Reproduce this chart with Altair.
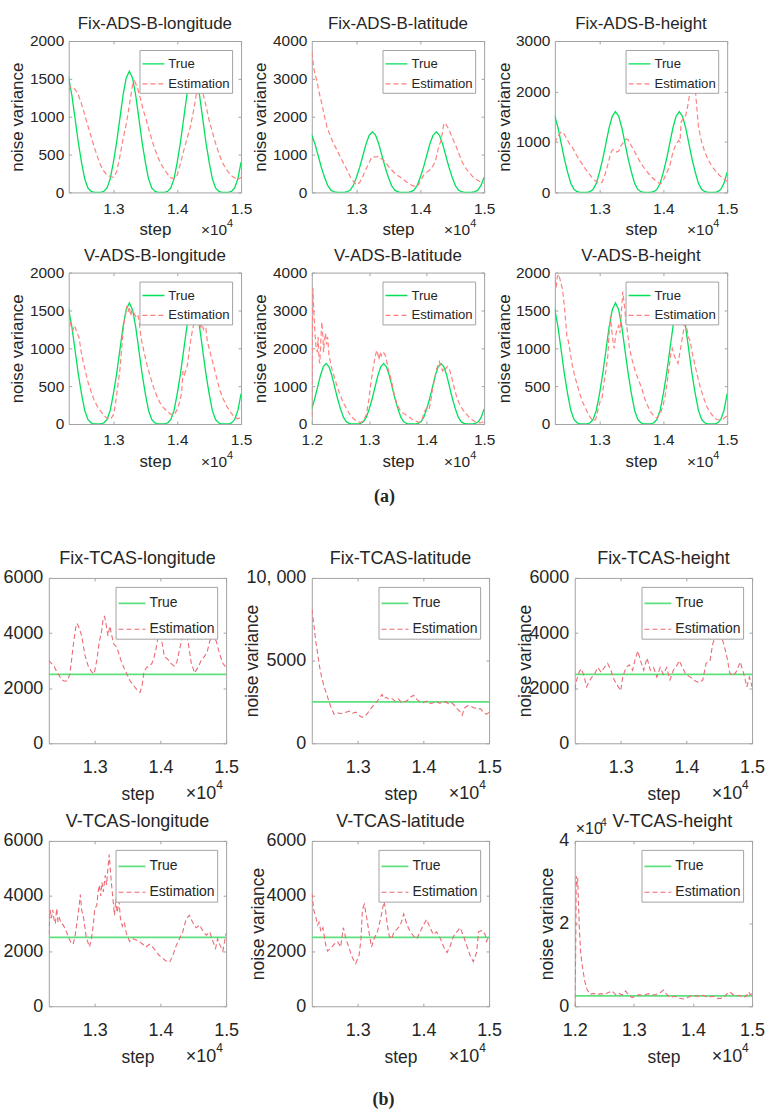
import altair as alt
import pandas as pd

FONT = "Liberation Sans"
SERIF = "Liberation Serif"
TXT = "#262626"
FRAME = "#a3a3a3"

# ---------------- data ----------------
TRUE_ADSB_STEPS = list(range(12000, 15001, 50))
TRUE_ADSB = [400, 660, 970, 1280, 1510, 1600, 1510, 1280, 970, 660, 400, 180, 60, 15, 0, 0, 0, 15, 60, 180,
             400, 660, 970, 1280, 1510, 1600, 1510, 1280, 970, 660, 400, 180, 60, 15, 0, 0, 0, 15, 60, 180,
             400, 660, 970, 1280, 1510, 1600, 1510, 1280, 970, 660, 400, 180, 60, 15, 0, 0, 0, 15, 60, 180,
             400]
TRUE_TCAS_STEPS = [12000, 15000]
TRUE_TCAS = [2500, 2500]

A1_EST = [(12300, 1350), (12330, 1400), (12360, 1390), (12400, 1360), (12450, 1290), (12500, 1170), (12550, 1030),
          (12600, 880), (12650, 740), (12700, 600), (12750, 470), (12800, 360), (12850, 280), (12900, 230),
          (12950, 210), (13000, 200), (13050, 270), (13100, 470), (13150, 700), (13200, 900), (13250, 1150),
          (13300, 1420), (13330, 1470), (13370, 1400), (13420, 1250), (13470, 1080), (13500, 1000), (13550, 850),
          (13600, 700), (13650, 570), (13700, 460), (13750, 370), (13800, 300), (13850, 240), (13900, 195),
          (13950, 180), (14000, 230), (14050, 380), (14100, 550), (14150, 700), (14200, 850), (14250, 1050),
          (14300, 1300), (14350, 1360), (14400, 1320), (14450, 1150), (14500, 950), (14550, 800), (14600, 650),
          (14650, 520), (14700, 410), (14750, 330), (14800, 270), (14850, 220), (14900, 190), (14950, 170),
          (15000, 200)]
A2_EST = [(12300, 3700), (12340, 3200), (12380, 2950), (12420, 2600), (12460, 2330), (12500, 2000), (12540, 1720),
          (12600, 1450), (12640, 1300), (12700, 1100), (12740, 960), (12800, 760), (12850, 600), (12900, 420),
          (12950, 300), (13000, 200), (13050, 260), (13100, 430), (13150, 620), (13200, 790), (13230, 900),
          (13260, 950), (13300, 930), (13340, 950), (13380, 900), (13420, 860), (13470, 760), (13520, 650),
          (13570, 560), (13620, 480), (13680, 410), (13730, 350), (13780, 280), (13830, 220), (13880, 180),
          (13930, 150), (13970, 200), (14000, 300), (14050, 450), (14100, 530), (14150, 600), (14200, 700),
          (14240, 850), (14280, 1150), (14320, 1350), (14350, 1600), (14370, 1830), (14400, 1800), (14450, 1660),
          (14500, 1450), (14560, 1220), (14610, 1000), (14660, 790), (14720, 620), (14770, 520), (14820, 420),
          (14870, 350), (14920, 300), (14970, 260), (15000, 250)]
A3_EST = [(12300, 980), (12340, 1100), (12400, 1200), (12430, 1190), (12480, 1080), (12530, 960), (12580, 880),
          (12630, 760), (12680, 650), (12730, 560), (12780, 460), (12830, 380), (12880, 300), (12940, 220),
          (12990, 185), (13040, 200), (13090, 370), (13130, 550), (13170, 760), (13200, 840), (13230, 850),
          (13270, 800), (13300, 820), (13340, 930), (13380, 1000), (13420, 1060), (13450, 1040), (13500, 920),
          (13560, 780), (13620, 640), (13680, 520), (13730, 430), (13780, 360), (13830, 290), (13880, 230),
          (13930, 185), (13960, 170), (14000, 240), (14050, 380), (14100, 520), (14150, 800), (14200, 960),
          (14240, 1030), (14260, 1000), (14280, 1400), (14320, 1480), (14350, 1520), (14380, 1700), (14420, 2000),
          (14460, 2250), (14480, 2300), (14510, 1900), (14550, 1300), (14600, 1000), (14650, 800), (14700, 650),
          (14760, 520), (14820, 420), (14870, 350), (14930, 280), (15000, 220)]
A4_EST = [(12300, 1450), (12320, 1380), (12345, 1250), (12365, 1230), (12385, 1300), (12400, 1280), (12430, 1200),
          (12460, 1150), (12490, 980), (12520, 850), (12560, 700), (12600, 560), (12650, 430), (12700, 310),
          (12750, 230), (12800, 170), (12850, 110), (12900, 80), (12950, 60), (13000, 120), (13030, 250),
          (13060, 450), (13100, 700), (13130, 1000), (13160, 1300), (13190, 1450), (13210, 1560), (13230, 1480),
          (13250, 1550), (13270, 1430), (13290, 1500), (13320, 1470), (13350, 1420), (13380, 1450), (13400, 1380),
          (13430, 1150), (13480, 950), (13530, 770), (13580, 620), (13630, 480), (13680, 370), (13730, 280),
          (13780, 220), (13840, 170), (13900, 130), (13950, 120), (14000, 190), (14040, 300), (14070, 420),
          (14090, 700), (14110, 650), (14140, 720), (14160, 780), (14200, 1050), (14240, 1250), (14280, 1380),
          (14310, 1440), (14340, 1350), (14370, 1280), (14390, 1320), (14410, 1250), (14440, 1340), (14470, 1100),
          (14520, 930), (14570, 770), (14620, 600), (14670, 440), (14720, 330), (14780, 230), (14840, 150),
          (14890, 100), (14950, 70), (15000, 90)]
A5_EST = [(12000, 200), (12010, 2500), (12020, 3600), (12035, 3000), (12055, 2400), (12075, 2000), (12095, 1900),
          (12110, 2300), (12125, 1700), (12140, 1600), (12160, 2300), (12175, 2700), (12190, 2400), (12205, 1900),
          (12220, 2200), (12240, 2400), (12255, 2100), (12275, 2300), (12300, 1800), (12330, 1600), (12350, 1450),
          (12400, 1200), (12450, 950), (12500, 750), (12550, 560), (12600, 420), (12650, 280), (12700, 180),
          (12750, 110), (12800, 60), (12850, 40), (12900, 90), (12950, 250), (12990, 600), (13030, 1100),
          (13070, 1500), (13100, 1750), (13130, 1950), (13150, 1850), (13170, 1700), (13190, 1900), (13210, 1800),
          (13240, 1900), (13270, 1850), (13300, 1700), (13330, 1450), (13360, 1300), (13400, 1050), (13440, 750),
          (13480, 550), (13530, 380), (13580, 300), (13640, 240), (13700, 180), (13760, 110), (13820, 70),
          (13870, 40), (13920, 120), (13960, 330), (14000, 420), (14040, 380), (14070, 600), (14100, 900),
          (14140, 1200), (14170, 1450), (14200, 1550), (14220, 1650), (14250, 1500), (14280, 1400), (14300, 1500),
          (14330, 1450), (14360, 1520), (14400, 1430), (14440, 1200), (14480, 950), (14520, 730), (14570, 530),
          (14620, 400), (14680, 280), (14740, 180), (14800, 100), (14860, 50), (14920, 30), (14970, 40),
          (15000, 80)]
A6_EST = [(12300, 1900), (12320, 1800), (12340, 1950), (12360, 1980), (12390, 1880), (12420, 1780), (12450, 1550),
          (12470, 1350), (12490, 1150), (12510, 1100), (12540, 950), (12570, 790), (12610, 640), (12650, 520),
          (12690, 400), (12730, 300), (12780, 210), (12830, 120), (12870, 70), (12900, 40), (12940, 60),
          (12980, 200), (13010, 300), (13040, 350), (13070, 550), (13100, 700), (13130, 900), (13150, 1200),
          (13170, 1420), (13190, 1250), (13210, 1100), (13230, 1000), (13250, 1150), (13270, 1250), (13300, 1300),
          (13320, 1200), (13345, 1500), (13365, 1750), (13385, 1600), (13410, 1400), (13440, 1200), (13470, 1000),
          (13510, 850), (13560, 700), (13610, 580), (13660, 480), (13710, 330), (13760, 230), (13810, 150),
          (13860, 100), (13900, 80), (13940, 120), (13970, 180), (14000, 260), (14030, 380), (14060, 550),
          (14090, 750), (14120, 950), (14140, 1000), (14170, 900), (14200, 850), (14230, 800), (14260, 950),
          (14290, 1100), (14320, 1250), (14340, 1380), (14360, 1300), (14390, 1150), (14420, 1100), (14450, 950),
          (14490, 800), (14530, 650), (14580, 480), (14630, 350), (14680, 230), (14730, 160), (14790, 90),
          (14840, 60), (14890, 55), (14940, 70), (15000, 110)]

B1_EST = [(12300, 3000), (12340, 2900), (12380, 2800), (12420, 2600), (12460, 2450), (12500, 2300), (12540, 2250),
          (12580, 2270), (12620, 2500), (12650, 3100), (12680, 3700), (12710, 4200), (12730, 4350), (12760, 4200),
          (12800, 3900), (12850, 3200), (12900, 2800), (12950, 2600), (12990, 2520), (13030, 3000), (13070, 3700),
          (13100, 4000), (13130, 4550), (13150, 4600), (13180, 4200), (13200, 3900), (13230, 4250), (13260, 3900),
          (13290, 3600), (13330, 3500), (13360, 3300), (13400, 3000), (13450, 2700), (13490, 2500), (13540, 2250),
          (13590, 2100), (13640, 1950), (13690, 1850), (13720, 2100), (13750, 2600), (13790, 2750), (13830, 2800),
          (13870, 2900), (13900, 3100), (13930, 3400), (13960, 3800), (13990, 4100), (14020, 3700), (14060, 3150),
          (14110, 3050), (14160, 2900), (14210, 2800), (14250, 2950), (14290, 3400), (14330, 3800), (14370, 4100),
          (14420, 3700), (14470, 2900), (14520, 2550), (14570, 2750), (14620, 3000), (14670, 3150), (14710, 3300),
          (14750, 3700), (14800, 3950), (14850, 3700), (14900, 3250), (14950, 2900), (15000, 2750)]
B2_EST = [(12300, 8100), (12330, 7200), (12360, 6200), (12390, 5400), (12420, 4600), (12450, 4000), (12490, 3400),
          (12540, 2800), (12590, 2200), (12640, 1750), (12690, 1850), (12730, 1800), (12770, 1820), (12820, 1880),
          (12870, 1940), (12920, 1820), (12970, 1880), (13020, 1680), (13060, 1580), (13100, 1600), (13150, 1820),
          (13200, 2100), (13250, 2350), (13300, 2570), (13340, 2800), (13370, 2950), (13400, 2700), (13440, 2780),
          (13480, 2650), (13520, 2700), (13570, 2550), (13620, 2680), (13670, 2450), (13720, 2520), (13760, 2600),
          (13800, 2780), (13850, 2900), (13900, 2650), (13950, 2500), (14000, 2450), (14050, 2550), (14100, 2400),
          (14150, 2450), (14190, 2550), (14240, 2420), (14290, 2460), (14340, 2500), (14390, 2380), (14430, 2450),
          (14470, 2300), (14510, 2100), (14550, 1950), (14590, 1700), (14630, 2150), (14680, 2280), (14720, 2250),
          (14770, 2150), (14820, 2080), (14870, 2080), (14910, 1900), (14960, 1750), (15000, 1880)]
B3_EST = [(12300, 1950), (12330, 2300), (12370, 2600), (12400, 2700), (12440, 2450), (12480, 2050), (12520, 2250),
          (12560, 2400), (12600, 2500), (12650, 2750), (12700, 2580), (12750, 2750), (12800, 2900), (12850, 2650),
          (12900, 2300), (12950, 2100), (13000, 1900), (13030, 2400), (13080, 2750), (13130, 2850), (13180, 2650),
          (13220, 3050), (13260, 3350), (13300, 3000), (13350, 2650), (13400, 3100), (13450, 2650), (13500, 2750),
          (13550, 2400), (13600, 2750), (13650, 2500), (13700, 2750), (13750, 2300), (13800, 2650), (13850, 2800),
          (13890, 3000), (13940, 2750), (13990, 2500), (14060, 2400), (14140, 2250), (14200, 2200), (14250, 2300),
          (14300, 2900), (14360, 3000), (14400, 3600), (14450, 3950), (14480, 3850), (14520, 3950), (14570, 3600),
          (14620, 3100), (14660, 2550), (14710, 2450), (14760, 2600), (14820, 2950), (14870, 2550), (14920, 2050),
          (14960, 2400), (15000, 2050)]
B4_EST = [(12300, 2600), (12320, 3500), (12340, 3200), (12360, 3500), (12380, 3150), (12400, 3000), (12420, 3550),
          (12440, 3050), (12460, 3200), (12490, 3000), (12520, 2950), (12560, 2750), (12600, 2500), (12640, 2300),
          (12670, 2250), (12700, 2550), (12730, 3050), (12760, 3600), (12780, 4050), (12800, 3500), (12830, 3200),
          (12870, 2500), (12920, 2150), (12950, 2450), (12980, 3000), (13000, 3550), (13030, 3650), (13050, 4150),
          (13070, 4400), (13090, 4000), (13110, 4500), (13130, 4150), (13160, 4750), (13180, 4400), (13200, 5000),
          (13220, 5500), (13240, 4850), (13260, 4300), (13280, 3800), (13300, 3300), (13320, 3900), (13340, 3400),
          (13370, 3800), (13390, 3200), (13420, 2900), (13450, 3050), (13480, 2650), (13530, 2350), (13580, 2450),
          (13630, 2400), (13680, 2350), (13730, 2250), (13780, 2150), (13830, 2250), (13880, 2150), (13930, 2000),
          (13980, 1850), (14030, 1750), (14080, 1650), (14140, 1600), (14190, 1850), (14240, 2200), (14290, 2450),
          (14340, 2700), (14390, 3150), (14440, 3300), (14490, 3050), (14540, 2850), (14600, 2950), (14650, 2700),
          (14700, 2580), (14750, 2700), (14800, 2350), (14840, 2100), (14870, 2450), (14910, 2200), (14950, 2000),
          (15000, 2650)]
B5_EST = [(12300, 4100), (12330, 3500), (12360, 3250), (12390, 2950), (12410, 3050), (12440, 2700), (12470, 2850),
          (12510, 2250), (12540, 2000), (12590, 2100), (12640, 2250), (12690, 2350), (12740, 2150), (12780, 2850),
          (12820, 2450), (12870, 2100), (12920, 1750), (12970, 1550), (13020, 1850), (13050, 2450), (13070, 3500),
          (13100, 3700), (13130, 3300), (13170, 2700), (13210, 2150), (13250, 2450), (13300, 2700), (13350, 3200),
          (13400, 3800), (13420, 3550), (13450, 2950), (13480, 2550), (13520, 2450), (13550, 2700), (13600, 2800),
          (13650, 2950), (13700, 3350), (13750, 2950), (13800, 2700), (13850, 2550), (13900, 2450), (13950, 2700),
          (14000, 2950), (14050, 3150), (14100, 2850), (14150, 2600), (14200, 2700), (14260, 2450), (14310, 2150),
          (14360, 1950), (14410, 2200), (14460, 2550), (14510, 2700), (14560, 2850), (14610, 2550), (14660, 2200),
          (14710, 1850), (14760, 1620), (14810, 1950), (14840, 2700), (14890, 2750), (14940, 2600), (14960, 2350),
          (15000, 2550)]
B6_EST = [(12000, 0), (12015, 12000), (12025, 31500), (12040, 29500), (12050, 31000), (12060, 26000), (12080, 18000),
          (12100, 13000), (12130, 9500), (12170, 6000), (12210, 4000), (12260, 2900), (12320, 3100), (12380, 2800),
          (12440, 3050), (12500, 2800), (12550, 3200), (12630, 3700), (12690, 2800), (12740, 3200), (12800, 2700),
          (12860, 3700), (12910, 2700), (12970, 2100), (13020, 2400), (13080, 2800), (13140, 2650), (13190, 2800),
          (13250, 3050), (13300, 2800), (13360, 2800), (13440, 3200), (13500, 3900), (13560, 2800), (13610, 2150),
          (13700, 2400), (13750, 2000), (13840, 1750), (13920, 2150), (14000, 2650), (14090, 2400), (14170, 2650),
          (14260, 2150), (14340, 2400), (14420, 1850), (14510, 2000), (14560, 2800), (14620, 3500), (14680, 2800),
          (14730, 2400), (14790, 2650), (14840, 2150), (14900, 2400), (14940, 3500), (14970, 2800), (15000, 3000)]

SERIES = ["True", "Estimation"]

# ---------------- styling ----------------
STYLE = {
    "a": dict(W=173, H=152, green="#00e05a", red="#ff8080", tick=15.5, axtitle=17, ptitle=17, ptitley=-17,
              lpx=9, tpx=5, lpy=5, legfont=13.2, legpad=2, legrow=1, legsym=484,
              e10y=43, e4y=35, e10x=14, e4size=11, wtrue=1.3, west=1.2, lab=73),
    "b": dict(W=178, H=166, green="#5ee07e", red="#ec6a76", tick=18, axtitle=17.5, ptitle=18, ptitley=-19,
              lpx=15, tpx=9, lpy=6, legfont=14, legpad=2, legrow=4, legsym=729,
              e10y=56, e4y=46, e10x=10, e4size=12, wtrue=1.8, west=1.1, lab=94),
}
TK = 3  # inward tick length


def txt(text, x, y, size, align="left", font=FONT, weight="normal", opacity=1.0, baseline="alphabetic"):
    return alt.Chart(pd.DataFrame({"t": [text]})).mark_text(
        align=align, baseline=baseline, font=font, fontSize=size, fontWeight=weight,
        color=TXT, opacity=opacity
    ).encode(text="t:N", x=alt.value(x), y=alt.value(y))


def panel(sec, title, est, true_steps, true_vals, ymax, yvals, x0, xvals,
          ytitle_x=None, ylabel_expr="format(datum.value, 'd')", spacer_x=None, title_dx=0, extra=()):
    s = STYLE[sec]
    W, H = s["W"], s["H"]
    df = pd.concat([
        pd.DataFrame({"step": true_steps, "value": true_vals, "series": "True"}),
        pd.DataFrame({"step": [p[0] for p in est], "value": [p[1] for p in est], "series": "Estimation"}),
    ], ignore_index=True)
    xscale = alt.Scale(domain=[x0, 15000], nice=False, zero=False)
    yscale = alt.Scale(domain=[0, ymax], nice=False)
    leg = alt.Legend(title=None, orient="top-right", offset=9, padding=s["legpad"], rowPadding=s["legrow"],
                     strokeColor=FRAME, fillColor="white", cornerRadius=0, symbolType="stroke",
                     symbolSize=s["legsym"], symbolStrokeWidth=1.4, labelFont=FONT,
                     labelFontSize=s["legfont"], labelColor=TXT, labelOffset=3, labelLimit=300)
    tickkw = dict(ticks=True, tickSize=TK, tickColor=FRAME, tickWidth=1, offset=-TK, domain=False, grid=False)
    ykw = dict(values=yvals, labelExpr=ylabel_expr, labelFont=FONT, labelFontSize=s["tick"],
               labelColor=TXT, labelPadding=s["lpy"], **tickkw)
    if ytitle_x is not None:
        ykw.update(titleX=ytitle_x - TK, titleFont=FONT, titleFontSize=s["axtitle"],
                   titleFontWeight="normal", titleColor=TXT)
        ytitle = "noise variance"
    else:
        ytitle = None
    line = alt.Chart(df).mark_line(clip=True).encode(
        x=alt.X("step:Q", scale=xscale, title="step",
                axis=alt.Axis(values=xvals, labelExpr="format(datum.value / 10000, '.1f')",
                              labelFont=FONT, labelFontSize=s["tick"], labelColor=TXT,
                              labelPadding=s["lpx"], titleFont=FONT, titleFontSize=s["axtitle"],
                              titleFontWeight="normal", titleColor=TXT, titlePadding=s["tpx"],
                              labelFlush=False, **tickkw)),
        y=alt.Y("value:Q", scale=yscale, title=ytitle, axis=alt.Axis(**ykw)),
        color=alt.Color("series:N", scale=alt.Scale(domain=SERIES, range=[s["green"], s["red"]]), legend=leg),
        strokeDash=alt.StrokeDash("series:N", scale=alt.Scale(domain=SERIES, range=[[1, 0], [5, 3]]), legend=leg),
        strokeWidth=alt.StrokeWidth("series:N", scale=alt.Scale(domain=SERIES, range=[s["wtrue"], s["west"]]),
                                    legend=None),
    )
    # invisible copy that only carries the top / right inward ticks of the box
    box = alt.Chart(df).mark_line(opacity=0).encode(
        x=alt.X("step:Q", scale=xscale, title=None,
                axis=alt.Axis(orient="top", values=xvals, labels=False, **tickkw)),
        y=alt.Y("value:Q", scale=yscale, title=None,
                axis=alt.Axis(orient="right", values=yvals, labels=False, **tickkw)),
    )
    layers = [line, box,
              txt(title, W / 2 + title_dx, s["ptitley"], s["ptitle"], align="center", baseline="middle"),
              txt("×10", W - s["e10x"], H + s["e10y"], s["tick"], align="right"),
              txt("4", W - s["e10x"], H + s["e4y"], s["e4size"], align="left")]
    if spacer_x is not None:
        layers.append(txt(".", spacer_x, H / 2, 10, opacity=0))
    layers.extend(extra)
    return alt.layer(*layers).resolve_axis(x="independent", y="independent").properties(width=W, height=H)


XV = [13000, 14000, 15000]
XV12 = [12000, 13000, 14000, 15000]
AYT = -42

pA1 = panel("a", "Fix-ADS-B-longitude", A1_EST, TRUE_ADSB_STEPS, TRUE_ADSB, 2000, [0, 500, 1000, 1500, 2000],
            12300, XV, ytitle_x=AYT)
pA2 = panel("a", "Fix-ADS-B-latitude", A2_EST, TRUE_ADSB_STEPS, TRUE_ADSB, 4000, [0, 1000, 2000, 3000, 4000],
            12300, XV, ytitle_x=AYT)
pA3 = panel("a", "Fix-ADS-B-height", A3_EST, TRUE_ADSB_STEPS, TRUE_ADSB, 3000, [0, 1000, 2000, 3000],
            12300, XV, ytitle_x=AYT)
pA4 = panel("a", "V-ADS-B-longitude", A4_EST, TRUE_ADSB_STEPS, TRUE_ADSB, 2000, [0, 500, 1000, 1500, 2000],
            12300, XV, ytitle_x=AYT)
pA5 = panel("a", "V-ADS-B-latitude", A5_EST, TRUE_ADSB_STEPS, TRUE_ADSB, 4000, [0, 1000, 2000, 3000, 4000],
            12000, XV12, ytitle_x=AYT,
            extra=[txt("(a)", 73, 152 + STYLE["a"]["lab"], 18, align="center", font=SERIF, weight="bold",
                       baseline="middle")])
pA6 = panel("a", "V-ADS-B-height", A6_EST, TRUE_ADSB_STEPS, TRUE_ADSB, 2000, [0, 500, 1000, 1500, 2000],
            12300, XV, ytitle_x=AYT)

pB1 = panel("b", "Fix-TCAS-longitude", B1_EST, TRUE_TCAS_STEPS, TRUE_TCAS, 6000, [0, 2000, 4000, 6000],
            12300, XV, spacer_x=-46)
pB2 = panel("b", "Fix-TCAS-latitude", B2_EST, TRUE_TCAS_STEPS, TRUE_TCAS, 10000, [0, 5000, 10000],
            12300, XV, ytitle_x=-50,
            ylabel_expr="datum.value == 10000 ? '10, 000' : format(datum.value, 'd')")
pB3 = panel("b", "Fix-TCAS-height", B3_EST, TRUE_TCAS_STEPS, TRUE_TCAS, 6000, [0, 2000, 4000, 6000],
            12300, XV, ytitle_x=-40)
pB4 = panel("b", "V-TCAS-longitude", B4_EST, TRUE_TCAS_STEPS, TRUE_TCAS, 6000, [0, 2000, 4000, 6000],
            12300, XV, spacer_x=-46)
pB5 = panel("b", "V-TCAS-latitude", B5_EST, TRUE_TCAS_STEPS, TRUE_TCAS, 6000, [0, 2000, 4000, 6000],
            12300, XV, ytitle_x=-44,
            extra=[txt("(b)", 72, 166 + STYLE["b"]["lab"], 18, align="center", font=SERIF, weight="bold",
                       baseline="middle")])
pB6 = panel("b", "V-TCAS-height", B6_EST, TRUE_TCAS_STEPS, TRUE_TCAS, 40000, [0, 20000, 40000],
            12000, XV12, ytitle_x=-18, ylabel_expr="format(datum.value / 10000, 'd')", title_dx=9,
            extra=[txt("×10", 1, -7, 16), txt("4", 26, -15, 11)])

RES = dict(color="independent", strokeDash="independent", strokeWidth="independent")


def row(a, b, c, sp):
    return alt.hconcat(a, b, c, spacing=sp, bounds="flush").resolve_scale(**RES)


def shifted(inner, dx):
    # 1-px invisible lead view so that section (a) sits dx px right of section (b)
    lead = alt.Chart(pd.DataFrame({"t": [""]})).mark_text().encode(text="t:N").properties(
        width=1, height=1, view=alt.ViewBackground(stroke="transparent"))
    return alt.hconcat(lead, inner, spacing=dx - 1, bounds="flush").resolve_scale(**RES)


rowA1 = shifted(row(pA1, pA2, pA3, 71), 20)
rowA2 = shifted(row(pA4, pA5, pA6, 71), 20)
rowB1 = row(pB1, pB2, pB3, 86)
rowB2 = row(pB4, pB5, pB6, 86)

secA = alt.vconcat(rowA1, rowA2, spacing=6.5).resolve_scale(**RES)
secB = alt.vconcat(rowB1, rowB2, spacing=8).resolve_scale(**RES)

chart = alt.vconcat(secA, secB, spacing=43).resolve_scale(**RES).properties(
    padding={"left": 2, "top": 12, "right": 4, "bottom": 2},
    background="white",
).configure_view(stroke=FRAME, strokeWidth=1)

chart.save("out.html", embed_options={"renderer": "svg", "actions": False})
